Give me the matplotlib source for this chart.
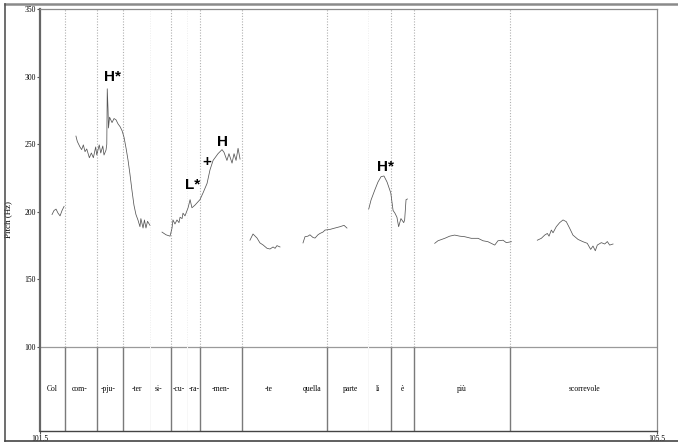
import numpy as np
import matplotlib
matplotlib.use('Agg')
import matplotlib.pyplot as plt
from matplotlib.lines import Line2D

plt.rcParams['font.family'] = ['Liberation Serif', 'DejaVu Serif']

# pitch track, one (time s, Hz) pair of lists per voiced stretch
seg_col_t = [101.578, 101.591, 101.604, 101.617, 101.630, 101.643, 101.656]
seg_col_f = [198, 201, 202, 199, 197, 201, 204]

seg_pju_t = [101.733, 101.742, 101.759, 101.770, 101.781, 101.792, 101.803, 101.820,
             101.833, 101.846, 101.861, 101.868, 101.884, 101.894, 101.907, 101.915,
             101.928, 101.933, 101.936, 101.941, 101.944, 101.951, 101.967, 101.980,
             101.993, 102.006, 102.019, 102.032, 102.045, 102.058, 102.071, 102.083,
             102.096, 102.109, 102.122, 102.135, 102.148, 102.154, 102.168, 102.177,
             102.187, 102.197, 102.213]
seg_pju_f = [256, 252, 248, 246, 249.5, 244.5, 246.5, 240,
             243.5, 240, 248, 242, 249.5, 243.5, 248.7, 242,
             245.7, 250, 291, 276, 262, 270, 266, 269,
             268, 265, 263, 260, 255, 247, 238, 228,
             216, 205, 198, 194, 189, 195, 188, 194,
             188, 193, 190]

seg_men_t = [102.291, 102.317, 102.343, 102.356, 102.362, 102.375, 102.388, 102.401,
             102.408, 102.421, 102.427, 102.440, 102.460, 102.473, 102.485, 102.505,
             102.537, 102.557, 102.583, 102.602, 102.622, 102.654, 102.680, 102.693,
             102.712, 102.725, 102.745, 102.758, 102.771, 102.784, 102.797]
seg_men_f = [185, 183, 182, 188, 194, 191, 194, 192,
             196, 195, 199, 197, 203, 209, 203, 205,
             209, 214, 221, 231, 238, 243, 246, 244,
             238, 243, 236, 243, 238, 247, 239]

seg_te_t = [102.861, 102.881, 102.907, 102.926, 102.946, 102.972, 102.991, 103.011,
            103.024, 103.036, 103.056]
seg_te_f = [179, 183.6, 180.6, 177, 175.5, 173, 172.5, 174, 173, 175, 174]

seg_quella_t = [103.205, 103.218, 103.237, 103.250, 103.270, 103.283, 103.302, 103.315,
                103.334, 103.348, 103.380, 103.412, 103.445, 103.471, 103.490]
seg_quella_f = [177, 181.6, 182, 183, 181, 180.6, 183, 184,
                185, 186.5, 187, 188, 189, 190, 188]

seg_li_t = [103.631, 103.646, 103.670, 103.691, 103.711, 103.730, 103.750, 103.774,
            103.789, 103.801, 103.814, 103.825, 103.840, 103.858, 103.864, 103.873,
            103.882]
seg_li_f = [202, 208.7, 216, 222, 226, 226.5, 222, 214,
            201, 199, 196, 189, 195, 192, 194, 209, 209.5]

seg_piu_t = [104.059, 104.080, 104.124, 104.156, 104.188, 104.221, 104.253, 104.296,
             104.340, 104.372, 104.404, 104.448, 104.469, 104.502, 104.523, 104.556]
seg_piu_f = [176.7, 178.6, 180.4, 182, 182.8, 182, 181.6, 180.4,
             180.4, 178.6, 177.9, 175.4, 178.6, 179, 177.2, 177.9]

seg_sco_t = [104.724, 104.750, 104.772, 104.789, 104.800, 104.815, 104.826, 104.847,
             104.869, 104.891, 104.912, 104.934, 104.955, 104.988, 105.020, 105.048,
             105.070, 105.085, 105.100, 105.113, 105.139, 105.161, 105.178, 105.193,
             105.215]
seg_sco_f = [179, 180.4, 182.8, 184, 182, 186.5, 184.5, 189,
             192, 194, 192.7, 187.8, 182.8, 179.6, 177.9, 176.7,
             172.2, 174.7, 171.2, 175.4, 177.2, 176.2, 178, 175.4,
             176.2]

segments = [(seg_col_t, seg_col_f), (seg_pju_t, seg_pju_f), (seg_men_t, seg_men_f),
            (seg_te_t, seg_te_f), (seg_quella_t, seg_quella_f), (seg_li_t, seg_li_f),
            (seg_piu_t, seg_piu_f), (seg_sco_t, seg_sco_f)]

# syllable tier
boundaries = [101.662, 101.870, 102.038, 102.349, 102.537, 102.810,
              103.361, 103.776, 103.925, 104.547]
faint_boundaries = [102.213, 102.453, 103.626]
syll_labels = ['Col', 'com-', '-pju-', '-ter', 'si-', '-cu-', '-ra-', '-men-',
               '-te', 'quella', 'parte', 'li', 'è', 'più', 'scorrevole']
syll_times = [101.578, 101.759, 101.941, 102.129, 102.265, 102.401, 102.498, 102.673,
              102.985, 103.263, 103.510, 103.691, 103.847, 104.236, 105.027]

# tone labels
tone_labels = ['H*', 'L*', '+', 'H', 'H*']
tone_t = [101.967, 102.492, 102.583, 102.686, 103.737]
tone_f = [299.7, 219.8, 236.8, 251.6, 233.1]

t_min, t_max = 101.5, 105.5
f_top, f_line, f_bottom = 350, 100, 37.9
yticks = [100, 150, 200, 250, 300, 350]

fig = plt.figure(figsize=(6.78, 4.43), dpi=100)
ax = fig.add_axes([40/678, 12/443, 617/678, 422/443])
ax.set_xlim(t_min, t_max)
ax.set_ylim(f_bottom, f_top)

# tier separator and boundaries
ax.axhline(f_line, color='#9a9a9a', lw=0.9)
for b in boundaries:
    ax.plot([b, b], [f_bottom, f_line], color='#7a7a7a', lw=1.0)
    ax.plot([b, b], [f_line, f_top], color='#b0b0b0', lw=0.8, ls=(0, (1, 1.5)))
for b in faint_boundaries:
    ax.plot([b, b], [f_line, f_top], color='#eeeeee', lw=0.7, ls=(0, (1, 1.5)))
    ax.plot([b, b], [f_bottom, f_line], color='#f7f7f7', lw=0.7)

for t, f in segments:
    ax.plot(t, f, color='#555555', lw=0.55)

for lab, t in zip(syll_labels, syll_times):
    ax.text(t, 69, lab, ha='center', va='center', fontsize=5.5)

for lab, t, f in zip(tone_labels, tone_t, tone_f):
    ax.text(t, f, lab, ha='center', va='center', fontsize=11, fontweight='bold',
            family=['Liberation Sans', 'DejaVu Sans'])

ax.set_yticks(yticks)
ax.set_yticklabels([str(v) for v in yticks], fontsize=5.5)
ax.set_xticks([t_min, t_max])
ax.set_xticklabels(['101.5', '105.5'], fontsize=5.5)
ax.tick_params(axis='y', length=2.5, width=0.8, pad=0.5, color='#555555')
ax.tick_params(axis='x', length=2, width=0.8, pad=1, color='#555555')
ax.set_ylabel('Pitch (Hz)', fontsize=6.5)
ax.yaxis.set_label_coords(-0.045, 0.5)

ax.spines['left'].set_color('#666666')
ax.spines['left'].set_linewidth(1.6)
ax.spines['bottom'].set_color('#444444')
ax.spines['bottom'].set_linewidth(1.0)
ax.spines['top'].set_color('#8a8a8a')
ax.spines['right'].set_color('#8a8a8a')
ax.spines['top'].set_linewidth(0.9)
ax.spines['right'].set_linewidth(0.9)

# outer frame
fig.add_artist(Line2D([5/678, 1], [1 - 4/443, 1 - 4/443], color='#8a8a8a', lw=1.8,
                      transform=fig.transFigure))
fig.add_artist(Line2D([5/678, 5/678], [2/443, 1 - 4/443], color='#555555', lw=1.2,
                      transform=fig.transFigure))
fig.add_artist(Line2D([5/678, 1], [2/443, 2/443], color='#444444', lw=1.2,
                      transform=fig.transFigure))

fig.savefig('out.png', dpi=100)
